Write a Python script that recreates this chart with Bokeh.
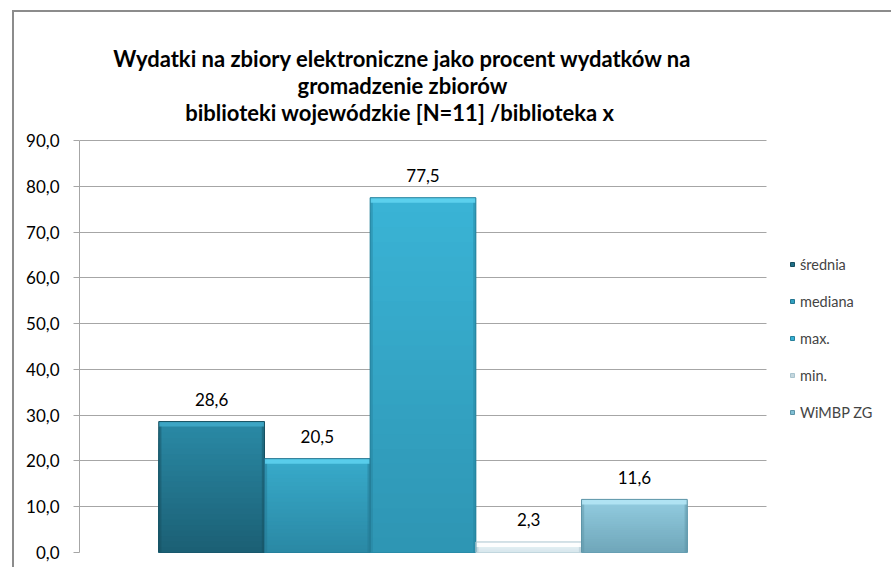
import numpy as np
from bokeh.plotting import figure
from bokeh.models import (ColumnDataSource, Range1d, Legend, LegendItem, Label, FixedTicker)
from bokeh.core.properties import value
from bokeh.embed import file_html
from bokeh.resources import INLINE

# ---------------- data ----------------
series = ["średnia", "mediana", "max.", "min.", "WiMBP ZG"]
values = [28.6, 20.5, 77.5, 2.3, 11.6]
tick_values = [0, 10, 20, 30, 40, 50, 60, 70, 80, 90]
tick_labels = ["0,0", "10,0", "20,0", "30,0", "40,0", "50,0", "60,0", "70,0", "80,0", "90,0"]
title_lines = ["Wydatki na zbiory elektroniczne jako procent wydatków na",
               "gromadzenie zbiorów",
               "biblioteki wojewódzkie  [N=11] /biblioteka x"]
y_max = 90

# ---------------- styles ----------------
top_colors = ["#2a8aa6", "#38abcb", "#3ab4d6", "#eef6f8", "#93cde1"]
bot_colors = ["#1b5f74", "#2a88a4", "#2e95b3", "#d5e6ec", "#6fa6b9"]
bevel_colors = ["#3fa9c8", "#5cd0ee", "#5fd3f0", "#ffffff", "#b4e6f5"]
edge_colors = ["#164f60", "#237590", "#26809b", "#a9c4ce", "#5d94a7"]
legend_colors = ["#1f6f87", "#31a0c0", "#36b0d4", "#c5d7de", "#80bfd4"]
FONT = "Lato"

# layout in pixels (canvas starts at page x=14, y=12 after the 2px chart border)
W, H = 879, 557
bl, bb = 65, 17
frame_w, frame_h = W - bl, H - bb
plot_h_px = 412           # height of the 0..90 value area
plot_w_px = 687           # width of the bar/grid area
pad = 0.75                # empty category space each side of the bar group
ky = plot_h_px / y_max
x_start = -0.5 - pad
x_bar_end = len(series) - 0.5 + pad
kx = plot_w_px / (x_bar_end - x_start)

p = figure(width=W, height=H, output_backend="svg", toolbar_location=None,
           x_range=Range1d(x_start, x_start + frame_w / kx),
           y_range=Range1d(0, frame_h / ky),
           min_border_left=bl, min_border_right=0,
           min_border_top=0, min_border_bottom=bb,
           background_fill_color="white", border_fill_color="white")
p.margin = (10, 0, 0, 12)
p.styles = {"border-left": "2px solid #8c8c8c", "border-top": "2px solid #8c8c8c"}
p.outline_line_color = None
p.xaxis.visible = False
p.xgrid.visible = False
yg = p.ygrid[0]
yg.grid_line_color = "#a6a6a6"
yg.grid_line_width = 1
yg.bounds = (0, y_max)
if "cross_bounds" in yg.properties():
    yg.cross_bounds = (x_start, x_bar_end)
    yg.ticker = FixedTicker(ticks=tick_values)
else:
    yg.visible = False
    p.segment(x0=x_start, x1=x_bar_end, y0=tick_values, y1=tick_values,
              line_color="#a6a6a6", line_width=1)
ya = p.yaxis[0]
ya.ticker = FixedTicker(ticks=tick_values)
ya.bounds = (0, y_max)
ya.major_label_overrides = {t: l for t, l in zip(tick_values, tick_labels)}
ya.axis_line_color = "#a6a6a6"
ya.major_tick_line_color = "#a6a6a6"
ya.major_tick_out = 6
ya.major_tick_in = 0
ya.minor_tick_line_color = None
ya.major_label_standoff = 14
ya.major_label_text_font = FONT
ya.major_label_text_font_size = "17px"
ya.major_label_text_color = "#000000"

# ---------------- bars with gradient look ----------------
def mix(c1, c2, t):
    a = np.array([int(c1[i:i + 2], 16) for i in (1, 3, 5)], float)
    b = np.array([int(c2[i:i + 2], 16) for i in (1, 3, 5)], float)
    c = a + (b - a) * t
    return "#%02x%02x%02x" % tuple(int(round(v)) for v in c)

N = 24
xs = np.arange(len(series))
half = 0.5
sl, sr, st, sc = [], [], [], []
for i, v in enumerate(values):
    for k in range(N, 0, -1):
        sl.append(xs[i] - half)
        sr.append(xs[i] + half)
        st.append(v * k / N)
        sc.append(mix(bot_colors[i], top_colors[i], (k - 0.5) / N))
p.quad(left=sl, right=sr, bottom=0, top=st, fill_color=sc, line_color=None)

bevel = 5.0 / ky
vals = np.array(values)
p.quad(left=xs - half, right=xs - half + 0.025, bottom=0, top=vals,
       fill_color=edge_colors, fill_alpha=0.45, line_color=None)
p.quad(left=xs + half - 0.025, right=xs + half, bottom=0, top=vals,
       fill_color=edge_colors, fill_alpha=0.45, line_color=None)
p.quad(left=xs - half, right=xs + half, bottom=np.maximum(vals - bevel, 0), top=vals,
       fill_color=bevel_colors, fill_alpha=0.9, line_color=None)

src = ColumnDataSource(dict(x=xs, top=vals,
                            lab=[f"{v:.1f}".replace(".", ",") for v in values]))
for i in range(len(series)):
    p.vbar(x=[xs[i]], top=[values[i]], width=1.0, bottom=0,
           fill_alpha=0.0, line_color=edge_colors[i], line_width=1)

p.text(x="x", y="top", text="lab", source=src, text_align="center",
       text_baseline="middle", y_offset=-22, text_font=value(FONT),
       text_font_size="17px", text_color="#000000")

# ---------------- legend ----------------
leg_renderers = []
for i in range(len(series)):
    r = p.scatter(x=[xs[i]], y=[-100], marker="square", size=10,
                  fill_color=legend_colors[i], line_color=edge_colors[i])
    leg_renderers.append(r)
legend = Legend(items=[LegendItem(label=s, renderers=[r]) for s, r in zip(series, leg_renderers)],
                location=(708, 130), orientation="vertical",
                glyph_width=10, glyph_height=10, label_height=20, spacing=17,
                label_standoff=3, padding=0, margin=0,
                label_text_font=FONT, label_text_font_size="14.5px",
                border_line_color=None, background_fill_alpha=0.0)
p.add_layout(legend, "center")

# ---------------- title (three centred lines above the value area) ----------------
title_center_px = 323            # from the left of the value area
title_base_px = [82, 55, 28]     # baselines above the 90 line
for t, dy in zip(title_lines, title_base_px):
    p.add_layout(Label(x=x_start + title_center_px / kx, y=y_max + dy / ky,
                       text=t, text_align="center", text_baseline="alphabetic",
                       text_font=FONT, text_font_size="22px", text_font_style="bold",
                       text_color="#000000"))

open("out.html", "w").write(file_html(p, INLINE))
